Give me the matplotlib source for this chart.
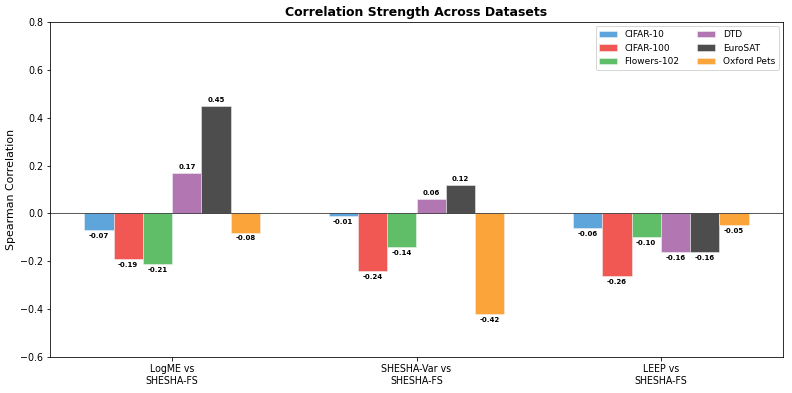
import matplotlib
matplotlib.use("Agg")
import matplotlib.pyplot as plt
import numpy as np

# comparisons on x axis
comparisons = ["LogME vs\nSHESHA-FS", "SHESHA-Var vs\nSHESHA-FS", "LEEP vs\nSHESHA-FS"]
datasets = ["CIFAR-10", "CIFAR-100", "Flowers-102", "DTD", "EuroSAT", "Oxford Pets"]
colors = ["#5DA5DA", "#F15854", "#60BD68", "#B276B2", "#4D4D4D", "#FAA43A"]

# spearman correlation per dataset (one list per dataset, across comparisons)
cifar10 = [-0.07, -0.01, -0.06]
cifar100 = [-0.19, -0.24, -0.26]
flowers = [-0.21, -0.14, -0.10]
dtd = [0.17, 0.06, -0.16]
eurosat = [0.45, 0.12, -0.16]
pets = [-0.08, -0.42, -0.05]
values = [cifar10, cifar100, flowers, dtd, eurosat, pets]

fig = plt.figure(figsize=(11, 393 / 72), dpi=72)
ax = fig.add_axes([50 / 792, 1 - 357 / 393, 733 / 792, 335 / 393])

x = np.arange(len(comparisons))
width = 0.12
for i, (name, vals) in enumerate(zip(datasets, values)):
    pos = x + (i - 2.5) * width
    bars = ax.bar(pos, vals, width, label=name, color=colors[i],
                  edgecolor="#f4f4f4", linewidth=0.5)
    for b, v in zip(bars, vals):
        if v >= 0:
            ax.text(b.get_x() + b.get_width() / 2, v + 0.012, f"{v:.2f}",
                    ha="center", va="bottom", fontsize=7, fontweight="bold")
        else:
            ax.text(b.get_x() + b.get_width() / 2, v - 0.012, f"{v:.2f}",
                    ha="center", va="top", fontsize=7, fontweight="bold")

ax.axhline(0, color="black", linewidth=0.8, alpha=0.8)
ax.set_xticks(x)
ax.set_xticklabels(comparisons, fontsize=9.5)
ax.set_xlim(-0.5, 2.5)
ax.set_ylim(-0.6, 0.8)
ax.tick_params(axis="y", labelsize=9.5)
ax.set_ylabel("Spearman Correlation", fontsize=11)
ax.set_title("Correlation Strength Across Datasets", fontsize=12.5, fontweight="bold")
ax.legend(ncol=2, loc="upper right", fontsize=9)

plt.savefig("out.png", dpi=72)
